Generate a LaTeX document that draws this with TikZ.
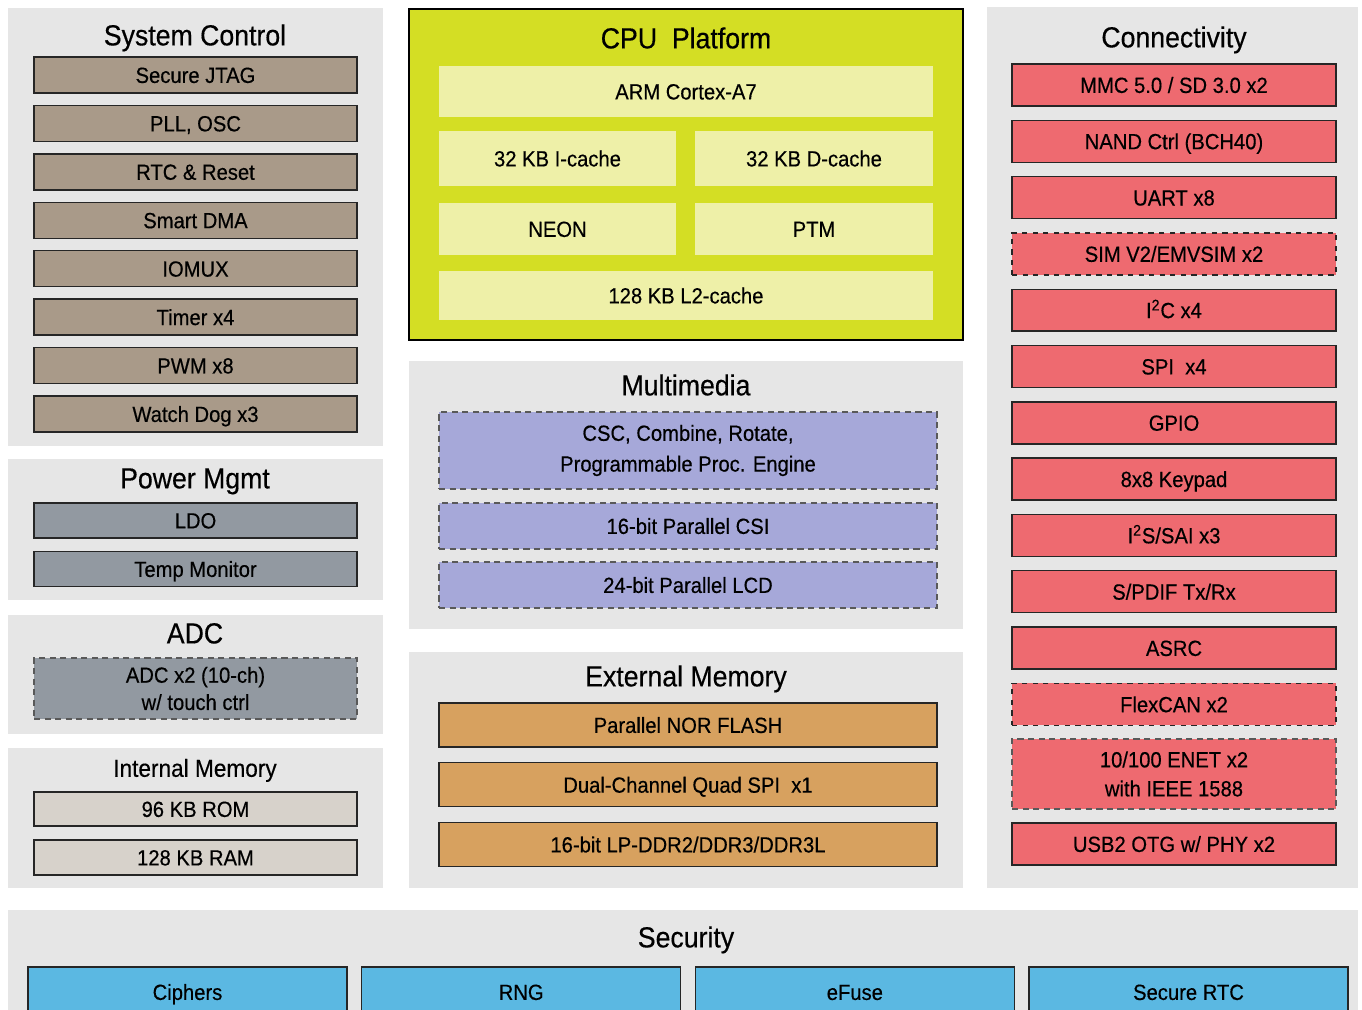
\documentclass[tikz,border=0pt]{standalone}
\usepackage{fontspec}
\setmainfont{Liberation Sans}[FakeStretch=0.92, FakeBold=0.4]

\definecolor{panelgray}{HTML}{E6E6E6}
\definecolor{sysbrown}{HTML}{A99A89}
\definecolor{pwrgray}{HTML}{9299A1}
\definecolor{memgray}{HTML}{D7D2CB}
\definecolor{cpugreen}{HTML}{D4DE24}
\definecolor{cpupale}{HTML}{EEF0A8}
\definecolor{mmblue}{HTML}{A6A8D9}
\definecolor{extorange}{HTML}{D7A15F}
\definecolor{conred}{HTML}{EE6A70}
\definecolor{secblue}{HTML}{5BB8E2}

\begin{document}
\begin{tikzpicture}[x=0.02cm, y=-0.02cm,
    panel/.style={fill=panelgray, inner sep=0},
    title/.style={font=\fontsize{16.5}{18}\selectfont, text height=11.8pt, text depth=0pt},
    blk/.style={draw=black!85, line width=0.8pt, inner sep=0, align=center,
      text height=9pt, text depth=0pt, font=\fontsize{12.5}{15.5}\selectfont},
    twoline/.style={text height=, text depth=},
    dashblk/.style={blk, draw=black!65, dash pattern=on 3.5pt off 2.5pt},
    cpublk/.style={fill=cpupale, inner sep=0, text height=9pt, text depth=0pt,
      font=\fontsize{12.5}{15}\selectfont}]
  \clip (0,0) rectangle (1362,1010);
  \fill[white] (0,0) rectangle (1362,1010);

  % panels
  \node[panel, minimum width=7.5cm, minimum height=8.76cm] (sysctl) at (195.5,227) {};
  \node[panel, minimum width=7.5cm, minimum height=2.82cm] (power) at (195.5,529.5) {};
  \node[panel, minimum width=7.5cm, minimum height=2.38cm] (adc) at (195.5,674.5) {};
  \node[panel, minimum width=7.5cm, minimum height=2.8cm] (intmem) at (195.5,818) {};
  \node[panel, fill=cpugreen, draw=black, line width=1.6pt,
    minimum width=11.08cm, minimum height=6.62cm] (cpu) at (686,174.5) {};
  \node[panel, minimum width=11.08cm, minimum height=5.36cm] (mm) at (686,495) {};
  \node[panel, minimum width=11.08cm, minimum height=4.72cm] (extmem) at (686,770) {};
  \node[panel, minimum width=7.42cm, minimum height=17.62cm] (conn) at (1172.5,447.5) {};
  \node[panel, minimum width=27cm, minimum height=2.4cm] (sec) at (683,970) {};

  % titles
  \node[title] (tsys) at (195,35) {System Control};
  \node[title] (tpwr) at (195,478) {Power Mgmt};
  \node[title] (tadc) at (195,633) {ADC};
  \node[title, font=\fontsize{14}{16}\selectfont, text height=10pt] (tint) at (195,768) {Internal Memory};
  \node[title] (tcpu) at (686,38) {CPU\ \ Platform};
  \node[title] (tmm) at (686,385) {Multimedia};
  \node[title] (text) at (686,676) {External Memory};
  \node[title] (tcon) at (1174,37) {Connectivity};
  \node[title] (tsec) at (686,937) {Security};

  % system control
  \foreach \t [count=\i from 0] in {Secure JTAG, {PLL, OSC}, RTC \& Reset, Smart DMA,
      IOMUX, Timer x4, PWM x8, Watch Dog x3}
    \node[blk, fill=sysbrown, minimum width=6.46cm, minimum height=0.72cm]
      (sc\i) at (195.5,75+48.43*\i) {\t};

  % power, adc, internal memory
  \node[blk, fill=pwrgray, minimum width=6.46cm, minimum height=0.7cm] (ldo) at (195.5,520.5) {LDO};
  \node[blk, fill=pwrgray, minimum width=6.46cm, minimum height=0.7cm] (temp) at (195.5,569) {Temp Monitor};
  \node[dashblk, twoline, fill=pwrgray, minimum width=6.46cm, minimum height=1.22cm] (adcx) at (195.5,688.5)
    {ADC x2 (10-ch)\\w/ touch ctrl};
  \node[blk, fill=memgray, minimum width=6.46cm, minimum height=0.68cm] (rom) at (195.5,809) {96 KB ROM};
  \node[blk, fill=memgray, minimum width=6.46cm, minimum height=0.7cm] (ram) at (195.5,857.5) {128 KB RAM};

  % cpu platform
  \node[cpublk, minimum width=9.88cm, minimum height=1.02cm] (arm) at (686,91.5) {ARM Cortex-A7};
  \node[cpublk, minimum width=4.74cm, minimum height=1.1cm] (icache) at (557.5,158.5) {32 KB I-cache};
  \node[cpublk, minimum width=4.76cm, minimum height=1.1cm] (dcache) at (814,158.5) {32 KB D-cache};
  \node[cpublk, minimum width=4.74cm, minimum height=1.04cm] (neon) at (557.5,229) {NEON};
  \node[cpublk, minimum width=4.76cm, minimum height=1.04cm] (ptm) at (814,229) {PTM};
  \node[cpublk, minimum width=9.88cm, minimum height=0.98cm] (ltwo) at (686,295.5) {128 KB L2-cache};

  % multimedia
  \node[dashblk, twoline, font=\fontsize{12.5}{17.5}\selectfont, fill=mmblue,
    minimum width=9.96cm, minimum height=1.54cm] (csc) at (688,450.5)
    {CSC, Combine, Rotate,\\Programmable Proc. Engine};
  \node[dashblk, fill=mmblue, minimum width=9.96cm, minimum height=0.92cm] (csi) at (688,526) {16-bit Parallel CSI};
  \node[dashblk, fill=mmblue, minimum width=9.96cm, minimum height=0.92cm] (lcd) at (688,585) {24-bit Parallel LCD};

  % external memory
  \foreach \t [count=\i from 0] in {Parallel NOR FLASH, Dual-Channel Quad SPI\ \ x1,
      16-bit LP-DDR2/DDR3/DDR3L}
    \node[blk, fill=extorange, minimum width=9.96cm, minimum height=0.88cm]
      (em\i) at (688,725+59.75*\i) {\t};

  % connectivity
  \foreach \t/\s [count=\i from 0] in {{MMC 5.0 / SD 3.0 x2}/solid, NAND Ctrl (BCH40)/solid,
      UART x8/solid, {SIM V2/EMVSIM x2}/dashed, I\textsuperscript{2}C x4/solid, SPI\ \ x4/solid,
      GPIO/solid, 8x8 Keypad/solid, {I\textsuperscript{2}S/SAI x3}/solid, {S/PDIF Tx/Rx}/solid,
      ASRC/solid, FlexCAN x2/dashed}
    \node[blk, \s, fill=conred, minimum width=6.48cm, minimum height=0.84cm]
      (con\i) at (1174,85+56.3*\i) {\t};
  \node[dashblk, twoline, font=\fontsize{12.5}{16.5}\selectfont, fill=conred,
    minimum width=6.48cm, minimum height=1.4cm] (enet) at (1174,774)
    {10/100 ENET x2\\with IEEE 1588};
  \node[blk, fill=conred, minimum width=6.48cm, minimum height=0.84cm] (usb) at (1174,844)
    {USB2 OTG w/ PHY x2};

  % security
  \foreach \t [count=\i from 0] in {Ciphers, RNG, eFuse, Secure RTC}
    \node[blk, fill=secblue, minimum width=6.38cm, minimum height=1.0cm]
      (sb\i) at (187.5+333.67*\i,992) {\t};
\end{tikzpicture}
\end{document}
